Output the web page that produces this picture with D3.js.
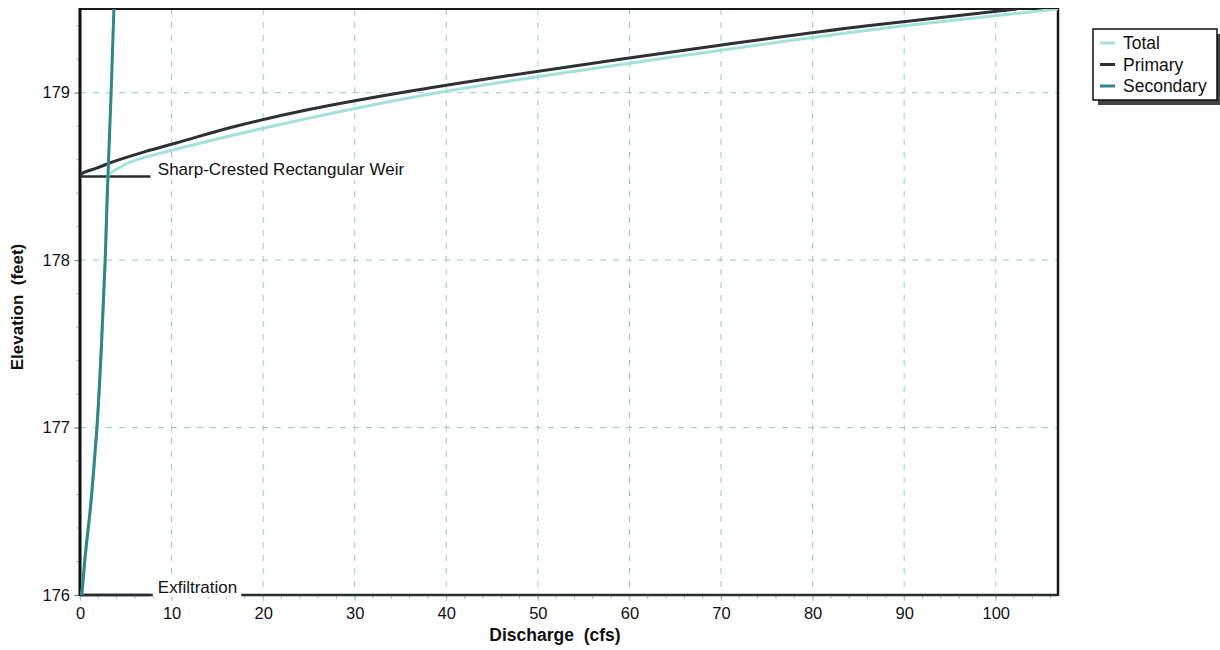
<!DOCTYPE html>
<html>
<head>
<meta charset="utf-8">
<script src="https://cdn.jsdelivr.net/npm/d3@7"></script>
<style>
  html, body { margin: 0; padding: 0; background: #ffffff; }
  svg { display: block; font-family: "Liberation Sans", Arial, Helvetica, sans-serif; }
</style>
</head>
<body>
<svg id="chart" width="1220" height="650"></svg>
<script>
// ---------- data ----------
const seriesNames = ["Total", "Primary", "Secondary"];

const secondaryElev = [176.0, 176.25, 176.5, 176.75, 177.0, 177.5, 178.0, 178.5, 179.0, 179.5];
const secondaryQ    = [0.2,   0.6,    1.1,   1.5,    1.85,  2.35,  2.75,  3.05,  3.4,   3.7];

const primaryElev = [178.5, 178.52, 178.55, 178.6, 178.65, 178.7, 178.8, 178.9, 179.0, 179.1, 179.2, 179.3, 179.4, 179.5];
const primaryQ    = [0.0,   0.3,    1.8,    4.3,   7.2,    10.5,  17.0,  25.0,  35.0,  46.5,  59.0,  72.0,  86.0,  102.3];

const totalElev = [176.0, 176.25, 176.5, 176.75, 177.0, 177.5, 178.0, 178.5, 178.55, 178.6, 178.65, 178.7, 178.8, 178.9, 179.0, 179.1, 179.2, 179.3, 179.4, 179.5];
const totalQ    = [0.2,   0.6,    1.1,   1.5,    1.85,  2.35,  2.75,  3.05,  4.2,    6.2,   9.6,    13.2,  21.0,  29.5,  39.0,  50.5,  63.0,  76.0,  90.0,  106.8];

const deviceLabels = ["Sharp-Crested Rectangular Weir", "Exfiltration"];
const deviceElev   = [178.5, 176.0];

const xTicks = [0, 10, 20, 30, 40, 50, 60, 70, 80, 90, 100];
const yTicks = [176, 177, 178, 179];
const xDomain = [0, 106.8];
const yDomain = [176, 179.5];

// ---------- layout ----------
const svg = d3.select("#chart");
const L = 80, R = 1058, T = 9, B = 595;
const x = d3.scaleLinear().domain(xDomain).range([L, R]);
const y = d3.scaleLinear().domain(yDomain).range([B, T]);

const gridColor = "#9fc9c4";
const colors = { Total: "#a3e2da", Primary: "#2d3134", Secondary: "#2f8884" };

// grid
svg.append("g").selectAll("line.vg").data(xTicks.filter(d => d > 0)).join("line")
  .attr("x1", d => x(d)).attr("x2", d => x(d)).attr("y1", T).attr("y2", B)
  .attr("stroke", gridColor).attr("stroke-width", 1).attr("stroke-dasharray", "6,7");
svg.append("g").selectAll("line.hg").data(yTicks.filter(d => d > 176)).join("line")
  .attr("x1", L).attr("x2", R).attr("y1", d => y(d)).attr("y2", d => y(d))
  .attr("stroke", gridColor).attr("stroke-width", 1).attr("stroke-dasharray", "6,7");

// minor ticks
const xMinor = d3.range(0, 106.8, 2);
const yMinor = d3.range(176, 179.5001, 0.2);
svg.append("g").selectAll("line").data(xMinor).join("line")
  .attr("x1", d => x(d)).attr("x2", d => x(d)).attr("y1", B).attr("y2", B + 4)
  .attr("stroke", gridColor).attr("stroke-width", 1);
svg.append("g").selectAll("line").data(yMinor).join("line")
  .attr("x1", L - 4).attr("x2", L).attr("y1", d => y(d)).attr("y2", d => y(d))
  .attr("stroke", gridColor).attr("stroke-width", 1);

// axes
const xAxis = d3.axisBottom(x).tickValues(xTicks).tickSize(6).tickPadding(6).tickFormat(d3.format("d"));
const yAxis = d3.axisLeft(y).tickValues(yTicks).tickSize(6).tickPadding(4).tickFormat(d3.format("d"));
const gx = svg.append("g").attr("transform", `translate(0,${B})`).call(xAxis);
const gy = svg.append("g").attr("transform", `translate(${L},0)`).call(yAxis);
[gx, gy].forEach(g => {
  g.select(".domain").remove();
  g.selectAll(".tick line").attr("stroke", gridColor);
  g.selectAll(".tick text").attr("fill", "#111").style("font-size", "16.5px")
    .style("font-family", "'Liberation Sans', Arial, sans-serif");
});
gy.selectAll(".tick line").attr("stroke", "#888");

// frame
svg.append("line").attr("x1", L).attr("x2", R).attr("y1", T).attr("y2", T)
  .attr("stroke", "#1a1a1a").attr("stroke-width", 2);
svg.append("line").attr("x1", R).attr("x2", R).attr("y1", T - 1).attr("y2", B + 1)
  .attr("stroke", "#1a1a1a").attr("stroke-width", 2.5);
svg.append("line").attr("x1", L).attr("x2", L).attr("y1", T - 1).attr("y2", B + 1)
  .attr("stroke", "#111").attr("stroke-width", 3);
svg.append("line").attr("x1", L).attr("x2", R).attr("y1", B).attr("y2", B)
  .attr("stroke", "#2a2f30").attr("stroke-width", 2.5);

// device marker lines
deviceElev.forEach((e, i) => {
  svg.append("line").attr("x1", x(0)).attr("x2", x(7.7)).attr("y1", y(e)).attr("y2", y(e))
    .attr("stroke", "#2a2d2f").attr("stroke-width", 2.5);
});
const lineGen = d3.line().x(d => x(d[0])).y(d => y(d[1])).curve(d3.curveMonotoneY);
const clipId = "plotclip";
svg.append("clipPath").attr("id", clipId).append("rect")
  .attr("x", L).attr("y", T).attr("width", R - L).attr("height", B - T);

const series = {
  Total: d3.zip(totalQ, totalElev),
  Primary: d3.zip(primaryQ, primaryElev),
  Secondary: d3.zip(secondaryQ, secondaryElev)
};

seriesNames.forEach(n => {
  svg.append("path").datum(series[n]).attr("d", lineGen).attr("clip-path", `url(#${clipId})`)
    .attr("fill", "none").attr("stroke", colors[n]).attr("stroke-width", 3)
    .attr("stroke-linejoin", "round");
});

// labels with background
const labelOffsets = [-7, -8];
deviceLabels.forEach((t, i) => {
  const g = svg.append("g");
  const tx = x(8.5), ty = y(deviceElev[i]) + labelOffsets[i];
  const txt = g.append("text").attr("x", tx).attr("y", ty).attr("dy", "0.35em")
    .style("font-size", "17px").attr("fill", "#111").text(t);
  const bb = txt.node().getBBox();
  g.insert("rect", "text").attr("x", bb.x - 5).attr("y", bb.y - 1)
    .attr("width", bb.width + 9).attr("height", i === 1 ? (B + 2 - (bb.y - 1)) : bb.height + 2)
    .attr("fill", "#ffffff");
});

// axis titles
svg.append("text").attr("x", 555).attr("y", 641).attr("text-anchor", "middle")
  .style("font-size", "17.5px").style("font-weight", "bold").attr("fill", "#111")
  .attr("xml:space", "preserve").text("Discharge  (cfs)");
svg.append("text").attr("transform", `translate(23,${307}) rotate(-90)`)
  .attr("text-anchor", "middle")
  .style("font-size", "17px").style("font-weight", "bold").attr("fill", "#111")
  .attr("xml:space", "preserve").text("Elevation  (feet)");

// legend
const lg = svg.append("g").attr("transform", "translate(1093,29)");
lg.append("rect").attr("x", 5).attr("y", 5).attr("width", 124).attr("height", 71).attr("fill", "#444");
lg.append("rect").attr("x", 0).attr("y", 0).attr("width", 124).attr("height", 71)
  .attr("fill", "#fff").attr("stroke", "#111").attr("stroke-width", 1.5);
seriesNames.forEach((n, i) => {
  const yy = 14 + i * 21.5;
  lg.append("line").attr("x1", 7).attr("x2", 22).attr("y1", yy).attr("y2", yy)
    .attr("stroke", colors[n]).attr("stroke-width", 3);
  lg.append("text").attr("x", 30).attr("y", yy).attr("dy", "0.35em")
    .style("font-size", "17.5px").attr("fill", "#111").text(n);
});
</script>
</body>
</html>
